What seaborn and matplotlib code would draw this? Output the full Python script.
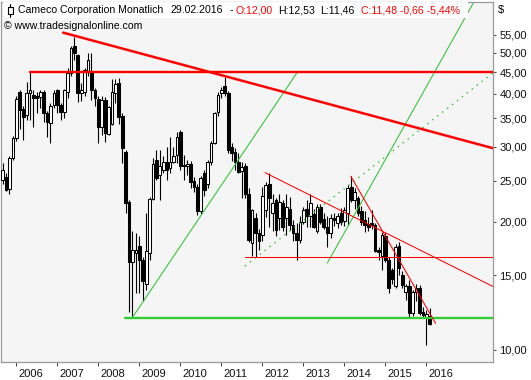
import matplotlib
matplotlib.use("Agg")
import numpy as np
import pandas as pd
import matplotlib.pyplot as plt
import matplotlib.transforms as mtransforms
from matplotlib.patches import Rectangle
from matplotlib.lines import Line2D
import seaborn as sns

sns.set_theme(style="white")
plt.rcParams['font.family'] = ['Liberation Sans', 'DejaVu Sans']

# ---------------- data (monthly candles, Sep 2005 .. Feb 2016) ----------------
start_month = "2005-09"
opens = [25.1, 25.5, 23.9, 28.3, 31.5, 40.4, 36.8, 35.6, 40.2, 39.7, 39.5, 39.3, 40.4, 36.1, 34.1, 37.7,
         40.8, 37.7, 36.3, 40.4, 44.7, 51.8, 49.3, 40.2, 40.4, 45.1, 45.1, 40.8, 38.8, 33.5, 38.6, 32.2,
         34.0, 40.1, 42.3, 35.5, 29.2, 22.3, 16.1, 16.9, 17.6, 16.3, 14.3, 16.9, 22.6, 27.9, 25.8, 26.5,
         27.6, 26.8, 27.7, 28.7, 32.6, 27.2, 27.0, 27.4, 24.9, 24.2, 21.2, 26.0, 24.6, 27.7, 30.7, 36.3,
         40.2, 41.7, 40.2, 30.0, 29.2, 27.7, 26.3, 27.0, 23.3, 17.8, 20.4, 18.8, 18.6, 21.3, 24.6, 21.0,
         22.5, 20.4, 22.1, 20.4, 21.5, 19.7, 18.8, 18.1, 20.0, 21.5, 20.6, 20.9, 19.0, 21.7, 20.3, 19.5,
         18.8, 20.4, 19.9, 21.0, 20.1, 21.0, 24.1, 22.5, 22.7, 21.2, 20.2, 19.8, 19.9, 19.7, 17.2, 16.6,
         18.5, 16.3, 15.4, 14.1, 17.6, 15.0, 13.7, 14.1, 12.2, 13.7, 14.0, 12.3, 11.95, 12.00]
highs = [27.5, 26.0, 28.5, 31.8, 39.5, 40.8, 37.5, 42.6, 44.9, 40.8, 40.5, 40.8, 40.8, 36.5, 38.0, 40.8,
         41.0, 38.0, 41.0, 46.0, 51.8, 54.5, 49.5, 42.3, 46.0, 50.0, 49.9, 41.2, 39.5, 39.5, 39.3, 37.5,
         43.3, 43.3, 43.5, 36.0, 29.5, 22.5, 19.0, 18.8, 18.5, 16.5, 21.0, 22.9, 28.2, 29.5, 29.5, 28.5,
         30.0, 31.7, 30.0, 32.6, 32.9, 28.7, 28.0, 27.8, 25.5, 24.5, 25.6, 26.5, 28.0, 31.0, 36.3, 40.5,
         41.5, 43.9, 40.6, 30.6, 29.8, 29.0, 27.6, 27.5, 24.0, 21.5, 21.0, 19.2, 24.2, 24.8, 26.0, 23.3,
         22.7, 23.2, 22.5, 23.3, 22.9, 20.2, 19.9, 20.6, 21.7, 22.5, 23.3, 21.5, 22.0, 22.0, 21.0, 20.6,
         20.9, 21.0, 21.0, 21.6, 21.7, 24.4, 25.7, 24.0, 23.0, 21.8, 21.2, 20.5, 21.3, 19.9, 17.5, 18.9,
         18.8, 16.5, 15.6, 17.7, 17.9, 15.3, 14.3, 14.6, 13.8, 14.3, 14.2, 12.6, 12.4, 12.53]
lows = [24.5, 23.6, 23.3, 28.0, 31.0, 33.0, 31.2, 34.7, 34.7, 33.4, 36.0, 37.0, 34.4, 31.7, 30.7, 37.0,
        36.0, 34.7, 35.0, 39.0, 44.0, 48.0, 38.3, 38.5, 39.5, 44.0, 38.7, 37.5, 30.6, 32.0, 30.9, 32.0,
        33.8, 38.0, 34.0, 27.5, 21.0, 12.3, 12.0, 13.6, 13.6, 13.0, 13.8, 16.3, 22.5, 25.1, 22.5, 26.0,
        25.1, 26.0, 27.5, 27.5, 26.5, 25.1, 25.8, 24.0, 23.5, 20.8, 20.9, 23.0, 24.0, 27.2, 30.5, 35.5,
        39.0, 39.5, 29.0, 27.8, 26.5, 26.0, 22.8, 22.8, 17.9, 16.6, 16.5, 17.2, 18.0, 20.5, 19.5, 19.0,
        18.5, 19.1, 19.0, 18.6, 19.1, 18.0, 16.3, 17.8, 19.8, 19.5, 19.5, 19.3, 18.8, 19.8, 19.2, 17.5,
        18.3, 19.6, 19.4, 19.7, 19.6, 19.7, 22.3, 21.5, 20.7, 19.7, 18.9, 19.0, 19.2, 17.0, 16.3, 15.4,
        16.1, 13.6, 14.3, 14.0, 15.0, 14.0, 13.1, 11.9, 12.0, 13.0, 12.1, 11.9, 10.3, 11.46]
closes = [26.5, 23.8, 28.3, 31.5, 38.9, 36.6, 35.2, 40.2, 40.8, 39.0, 39.0, 40.4, 36.1, 34.4, 37.5, 40.2,
          37.7, 36.3, 40.8, 44.7, 51.3, 49.9, 40.2, 40.8, 45.5, 48.0, 40.8, 39.2, 33.5, 38.6, 32.4, 37.3,
          40.5, 42.2, 35.3, 29.8, 22.1, 16.1, 17.2, 17.2, 16.3, 14.5, 17.1, 22.6, 27.4, 25.3, 27.1, 27.6,
          26.5, 27.7, 28.5, 31.7, 27.0, 27.0, 27.3, 24.8, 24.2, 21.2, 25.4, 23.8, 27.7, 30.7, 36.0, 39.8,
          40.9, 40.1, 29.5, 29.0, 27.7, 26.2, 26.9, 23.3, 18.1, 21.3, 18.8, 18.0, 23.0, 24.4, 22.7, 22.1,
          19.1, 22.3, 19.5, 21.7, 19.7, 18.8, 18.1, 20.0, 21.3, 20.6, 22.1, 19.5, 21.7, 20.0, 19.5, 18.8,
          20.4, 20.2, 20.6, 20.0, 21.3, 24.0, 22.5, 23.5, 21.0, 20.0, 19.7, 19.5, 19.7, 17.1, 17.0, 18.6,
          16.3, 14.0, 14.7, 17.5, 15.6, 14.2, 14.1, 12.2, 13.7, 14.0, 12.2, 12.1, 12.14, 11.48]

year_labels = [str(y) for y in range(2006, 2017)]
price_ticks = [10, 15, 20, 25, 30, 35, 40, 45, 50, 55]

# trend lines drawn by the analyst: (month offset from Jan 2006, price)
red_hline_k, red_hline_p = [4.0, 139.5], [44.9, 44.9]
red_res_k, red_res_p = [13.7, 139.5], [55.7, 29.8]
red_thin_k, red_thin_p = [72.8, 139.5], [26.1, 14.1]
red_steep_k, red_steep_p = [97.9, 122.7], [25.6, 11.55]
red_sup_k, red_sup_p = [66.9, 139.5], [16.5, 16.5]
green_hline_k, green_hline_p = [31.8, 139.5], [11.87, 11.87]
green_up1_k, green_up1_p = [34.1, 82.1], [11.96, 44.8]
green_up2_k, green_up2_p = [91.0, 133.7], [16.0, 65.3]
green_dot_k, green_dot_p = [66.9, 139.5], [15.75, 44.8]

# ---------------- figure ----------------
W, H = 531, 380
fig = plt.figure(figsize=(W / 100, H / 100), dpi=100)
fig.patch.set_facecolor("white")
ax = fig.add_axes([1 / W, 1 - 362 / H, 492 / W, 360 / H])
ax.set_facecolor("#f5f5f5")

df = pd.DataFrame({"month": pd.period_range(start_month, periods=len(opens), freq="M"),
                   "open": opens, "high": highs, "low": lows, "close": closes})
df["k"] = [(p.year - 2006) * 12 + p.month - 1 for p in df["month"]]
df["lo"] = df[["open", "close"]].min(axis=1)
df["hi"] = df[["open", "close"]].max(axis=1)
df["up"] = df["close"] >= df["open"]

ax.set_yscale("log")
ax.set_xlim(-4.48, 139.5)
ax.set_ylim(9.37, 65.74)

ax.vlines(df["k"], df["low"], df["high"], color="black", lw=0.8, zorder=3)
up = df[df["up"]]
dn = df[~df["up"]]
hgt_up = np.maximum(up["hi"] - up["lo"], up["hi"] * 0.006)
hgt_dn = np.maximum(dn["hi"] - dn["lo"], dn["hi"] * 0.006)
ax.bar(up["k"], hgt_up, bottom=up["lo"], width=0.8, facecolor="white",
       edgecolor="black", linewidth=0.75, zorder=4)
ax.bar(dn["k"], hgt_dn, bottom=dn["lo"], width=0.8, facecolor="black",
       edgecolor="black", linewidth=0.75, zorder=4)

RED = "#ff0000"
GREEN = "#33cc33"
lines = [
    (green_hline_k, green_hline_p, GREEN, 1.7, "-"),
    (green_up1_k, green_up1_p, "#2ec42e", 0.75, "-"),
    (green_up2_k, green_up2_p, "#2ec42e", 0.75, "-"),
    (green_dot_k, green_dot_p, "#2ec42e", 1.0, (0, (1, 3.5))),
    (red_sup_k, red_sup_p, RED, 0.75, "-"),
    (red_thin_k, red_thin_p, RED, 0.75, "-"),
    (red_steep_k, red_steep_p, RED, 0.75, "-"),
    (red_hline_k, red_hline_p, RED, 1.7, "-"),
    (red_res_k, red_res_p, RED, 1.8, "-"),
]
for kx, py, col, lw, ls in lines:
    sns.lineplot(x=kx, y=py, ax=ax, color=col, linewidth=lw, linestyle=ls,
                 legend=False, zorder=6, estimator=None)

# axes styling
for s in ax.spines.values():
    s.set_color("#9a9a9a")
    s.set_linewidth(0.9)
ax.yaxis.tick_right()
ax.yaxis.set_minor_locator(matplotlib.ticker.NullLocator())
ax.set_yticks(price_ticks)
ax.set_yticklabels([f"{v:.2f}".replace(".", ",") for v in price_ticks])
ax.set_xticks([12 * i for i in range(len(year_labels))])
ax.set_xticklabels(year_labels)
ax.tick_params(axis="y", which="major", right=True, left=False, length=2.5, width=0.7,
               color="#444444", pad=2.2, labelsize=8, labelcolor="#111111")
ax.tick_params(axis="x", which="major", bottom=True, length=3, width=0.7,
               color="#444444", pad=2, labelsize=8, labelcolor="#111111")
offset = mtransforms.ScaledTranslation(2 / 100, 0, fig.dpi_scale_trans)
for lab in ax.get_xticklabels():
    lab.set_horizontalalignment("left")
    lab.set_transform(lab.get_transform() + offset)
ax.set_xlabel("")
ax.set_ylabel("")
ax.grid(False)

# ---------------- header ----------------
def fx(px):
    return px / W

def fy(py):
    return 1 - py / H

fig.patches.append(Rectangle((fx(3), fy(18)), fx(468) - fx(3), fy(2.5) - fy(18),
                             transform=fig.transFigure, facecolor="white",
                             edgecolor="none", zorder=10))
fig.lines.append(Line2D([fx(10.2), fx(10.2)], [fy(3.5), fy(17)], transform=fig.transFigure,
                        color="black", lw=0.8, zorder=11))
fig.patches.append(Rectangle((fx(7.8), fy(14)), fx(12.6) - fx(7.8), fy(7) - fy(14),
                             transform=fig.transFigure, facecolor="white",
                             edgecolor="black", lw=0.8, zorder=12))

segments = [
    (17.6, "Cameco Corporation Monatlich", "black"),
    (170.3, "29.02.2016", "black"),
    (229.5, "-", "black"),
    (236.0, "O:12,00", RED),
    (278.0, "H:12,53", "black"),
    (320.0, "L:11,46", "black"),
    (360.6, "C:11,48 -0,66 -5,44%", RED),
]
for x, t, c in segments:
    fig.text(fx(x), fy(10.2), t, color=c, fontsize=7.6, ha="left", va="center", zorder=13)
fig.text(fx(4), fy(26), "\u00a9 www.tradesignalonline.com", color="black", fontsize=7.6,
         ha="left", va="center", zorder=13)
fig.text(fx(497.5), fy(10), "$", color="black", fontsize=8, ha="left", va="center")

fig.savefig("out.png", dpi=100)
